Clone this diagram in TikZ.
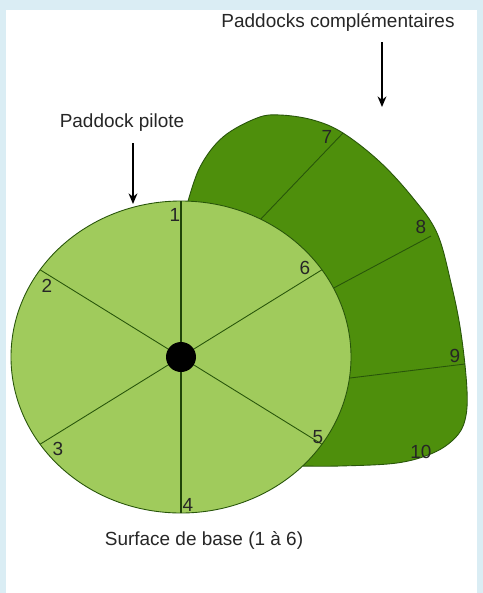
\documentclass[tikz,border=0pt]{standalone}
\usepackage{fontspec}
\setmainfont{Liberation Sans}
\usepackage{xcolor}
\usetikzlibrary{arrows.meta, positioning, calc}
\definecolor{frameblue}{RGB}{218,237,244}
\definecolor{pilotgreen}{RGB}{160,203,92}
\definecolor{compgreen}{RGB}{78,143,12}
\definecolor{edgegreen}{RGB}{40,85,10}
\tikzset{
    paddockfig/.style={>=Stealth, x=0.02cm, y=-0.02cm, font=\fontsize{10.8}{13}\selectfont},
    caption/.style={text=black!85, inner sep=0pt},
    num/.style={text=black!85, inner sep=0pt},
    spoke/.style={draw=edgegreen, line width=0.5pt},
    pointer/.style={->, line width=1.1pt, >={Stealth[length=6pt, width=5pt]}},
}
\begin{document}
\begin{tikzpicture}[paddockfig]
    % frame
    \fill[frameblue] (0,0) rectangle (483,593);
    \fill[white] (6,10) rectangle (477,593);
    \useasboundingbox (0,0) rectangle (483,593);

    % complementary paddocks
    \filldraw[fill=compgreen, draw=edgegreen, line width=0.5pt]
        plot[smooth, tension=0.6] coordinates {(187,205) (200,167) (223,137) (257,118) (280,115)
            (313,120) (343,133) (380,162) (413,198) (437,233) (451,283) (461,333) (467,390)
            (465,420) (455,438) (433,453) (397,463) (340,466) (300,466)}
        -- (200,300) -- cycle;
    \coordinate (c7) at (343,133);
    \coordinate (c8) at (431,236);
    \coordinate (c9) at (465,364);
    \draw[spoke] (258,222) -- (c7);
    \draw[spoke] (330,290) -- (c8);
    \draw[spoke] (350,378) -- (c9);

    % pilot paddock
    \coordinate (centre) at (181,357);
    \filldraw[fill=pilotgreen, draw=edgegreen, line width=0.5pt]
        (centre) ellipse [x radius=170, y radius=156];
    \foreach \a/\n in {90/s1, 146/s2, 214/s3, 270/s4, 326/s5, 34/s6} {
        \coordinate (\n) at ($(centre)+({170*cos(\a)},{-156*sin(\a)})$);
        \draw[spoke] (centre) -- (\n);
    }
    \draw[draw=edgegreen!80!black, line width=0.9pt] (centre) -- (s1);
    \draw[draw=edgegreen!80!black, line width=0.9pt] (centre) -- (s4);
    \fill[black] (centre) circle [radius=15];

    % numbers
    \node[num] (n1) at (175,215) {1};
    \node[num] (n2) at (47,286) {2};
    \node[num] (n3) at (58,449) {3};
    \node[num] (n4) at (188,505) {4};
    \node[num] (n5) at (318,437) {5};
    \node[num] (n6) at (305,268) {6};
    \node[num] (n7) at (327,137) {7};
    \node[num] (n8) at (421,227) {8};
    \node[num] (n9) at (455,356) {9};
    \node[num] (n10) at (421,452) {10};

    % captions
    \node[caption] (pilote) at (122,123) {Paddock pilote};
    \node[caption] (compl) at (338,22) {Paddocks complémentaires};
    \node[caption] (base) at (204,540) {Surface de base (1 à 6)};

    \coordinate (p1) at (133,143);
    \coordinate (p1e) at (133,204);
    \coordinate (p2) at (382,42);
    \coordinate (p2e) at (382,107);
    \draw[pointer] (p1) -- (p1e);
    \draw[pointer] (p2) -- (p2e);
\end{tikzpicture}
\end{document}
